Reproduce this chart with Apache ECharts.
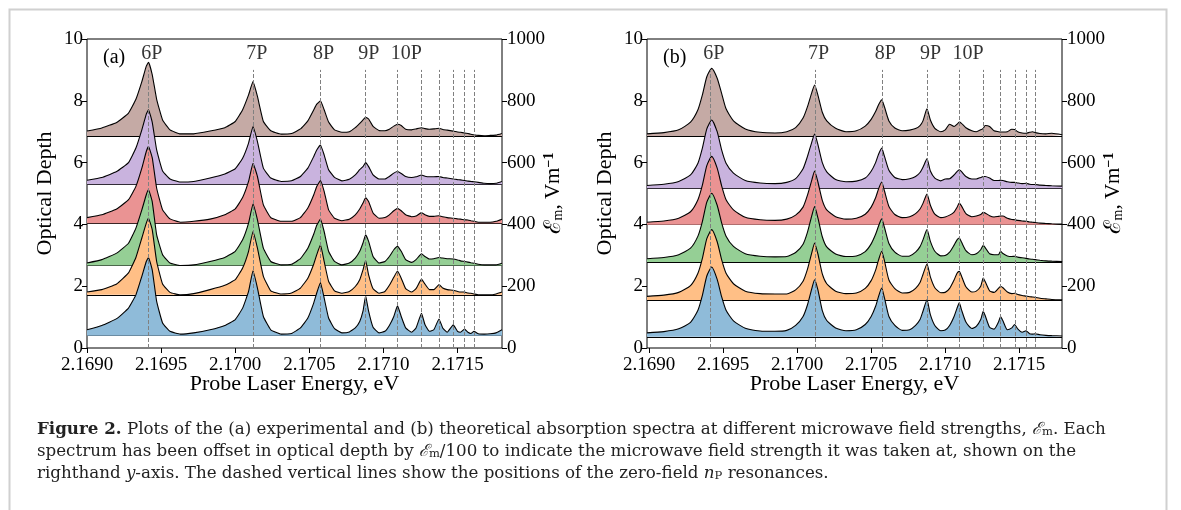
<!DOCTYPE html>
<html>
<head>
<meta charset="utf-8">
<script src="https://cdn.jsdelivr.net/npm/echarts@6/dist/echarts.min.js"></script>
<style>
  html, body { margin: 0; padding: 0; background: #fff; }
  #chart { width: 1181px; height: 510px; }
</style>
</head>
<body>
<div id="chart"></div>
<script>
// Probe laser energy grids (eV) for the experimental (a) and theoretical (b) spectra
const energyA = [2.16900, 2.16910, 2.16920, 2.16928, 2.16933, 2.16937, 2.16940, 2.169415,
  2.16944, 2.16947, 2.16951, 2.16956, 2.16963, 2.16972, 2.16983, 2.16993,
  2.17000, 2.17005, 2.17009, 2.17012, 2.17015, 2.17019, 2.17024, 2.17031,
  2.17038, 2.17044, 2.17049, 2.17053, 2.17055, 2.170575, 2.17060, 2.17063,
  2.17067, 2.17072, 2.17077, 2.17081, 2.17084, 2.170862, 2.17088, 2.17090,
  2.17093, 2.17097, 2.17101, 2.17104, 2.17107, 2.171095, 2.17112, 2.17115,
  2.17119, 2.17122, 2.171257, 2.17128, 2.17131, 2.17134, 2.171375, 2.17140,
  2.17143, 2.171471, 2.17150, 2.17152, 2.171547, 2.17157, 2.17159, 2.171611,
  2.17164, 2.17168, 2.17172, 2.17176, 2.17180];

const energyB = [2.168986, 2.16910, 2.16920, 2.16928, 2.16933, 2.16936, 2.16939, 2.169423,
  2.16946, 2.16949, 2.16952, 2.16957, 2.16965, 2.16975, 2.16985, 2.16993,
  2.16999, 2.17004, 2.17007, 2.17010, 2.170118, 2.17014, 2.17017, 2.17020,
  2.17026, 2.17033, 2.17040, 2.17046, 2.17050, 2.17053, 2.17055, 2.170571,
  2.17059, 2.17062, 2.17066, 2.17071, 2.17076, 2.17080, 2.17083, 2.17085,
  2.170877, 2.17090, 2.17093, 2.17097, 2.17100, 2.17103, 2.17106, 2.17108,
  2.171095, 2.17111, 2.17114, 2.17118, 2.17121, 2.17124, 2.171257, 2.17127,
  2.17130, 2.17133, 2.17136, 2.171374, 2.17139, 2.17142, 2.17145, 2.171469,
  2.17149, 2.17152, 2.171546, 2.17157, 2.17159, 2.171608, 2.17164, 2.17168,
  2.17172, 2.17179];

// Microwave field strengths (V/m); each spectrum is offset by field/100
const fieldsA = [40, 172, 267, 404, 530, 686];
const fieldsB = [36.5, 155, 278, 399, 517, 686];

// (a) experimental optical depth, offset included
const expBlue = [0.59, 0.73, 0.95, 1.29, 1.72, 2.32, 2.80, 2.93,
  2.53, 1.51, 0.81, 0.54, 0.45, 0.49, 0.59, 0.73,
  0.92, 1.29, 1.83, 2.50, 1.94, 1.02, 0.59, 0.45,
  0.47, 0.65, 0.97, 1.46, 1.78, 2.12, 1.62, 0.97,
  0.63, 0.49, 0.52, 0.65, 0.86, 1.19, 1.69, 1.19,
  0.67, 0.49, 0.54, 0.73, 1.02, 1.37, 1.02, 0.65,
  0.51, 0.65, 1.12, 0.76, 0.54, 0.59, 0.94, 0.65,
  0.51, 0.75, 0.54, 0.51, 0.61, 0.51, 0.47, 0.54,
  0.46, 0.45, 0.46, 0.49, 0.59];
const expOrange = [1.81, 1.89, 2.07, 2.43, 2.93, 3.56, 4.04, 4.20,
  3.83, 2.80, 2.07, 1.80, 1.72, 1.76, 1.89, 2.03,
  2.21, 2.59, 3.13, 3.77, 3.23, 2.32, 1.85, 1.75,
  1.78, 1.94, 2.26, 2.72, 3.02, 3.34, 2.80, 2.16,
  1.85, 1.77, 1.83, 1.99, 2.21, 2.53, 2.83, 2.37,
  1.92, 1.77, 1.83, 2.03, 2.29, 2.49, 2.26, 1.92,
  1.81, 1.92, 2.23, 2.07, 1.89, 1.89, 2.05, 1.94,
  1.89, 1.87, 1.83, 1.81, 1.81, 1.78, 1.77, 1.75,
  1.72, 1.72, 1.72, 1.75, 1.81];
const expGreen = [2.75, 2.86, 3.07, 3.39, 3.88, 4.47, 4.96, 5.12,
  4.74, 3.66, 3.02, 2.75, 2.67, 2.69, 2.80, 2.93,
  3.13, 3.50, 4.04, 4.66, 4.15, 3.23, 2.80, 2.69,
  2.71, 2.89, 3.23, 3.69, 3.97, 4.17, 3.77, 3.13,
  2.80, 2.69, 2.75, 2.91, 3.13, 3.40, 3.66, 3.45,
  2.96, 2.75, 2.80, 2.96, 3.18, 3.29, 3.13, 2.86,
  2.77, 2.86, 3.05, 2.96, 2.88, 2.89, 2.93, 2.91,
  2.89, 2.88, 2.85, 2.82, 2.80, 2.78, 2.76, 2.74,
  2.71, 2.69, 2.69, 2.69, 2.74];
const expRed = [4.22, 4.31, 4.50, 4.80, 5.23, 5.82, 6.36, 6.52,
  6.16, 5.17, 4.47, 4.18, 4.07, 4.10, 4.17, 4.31,
  4.50, 4.87, 5.39, 5.98, 5.55, 4.63, 4.22, 4.10,
  4.10, 4.22, 4.53, 4.96, 5.23, 5.42, 5.07, 4.47,
  4.20, 4.12, 4.17, 4.31, 4.50, 4.69, 4.87, 4.74,
  4.37, 4.20, 4.22, 4.31, 4.44, 4.52, 4.44, 4.31,
  4.25, 4.27, 4.38, 4.31, 4.26, 4.26, 4.28, 4.25,
  4.22, 4.20, 4.18, 4.17, 4.15, 4.14, 4.12, 4.10,
  4.07, 4.07, 4.07, 4.10, 4.17];
const expPurple = [5.43, 5.52, 5.71, 6.00, 6.47, 7.06, 7.57, 7.71,
  7.31, 6.41, 5.73, 5.47, 5.37, 5.39, 5.50, 5.63,
  5.80, 6.14, 6.63, 7.17, 6.68, 5.82, 5.50, 5.39,
  5.41, 5.55, 5.82, 6.20, 6.41, 6.57, 6.25, 5.77,
  5.52, 5.41, 5.46, 5.60, 5.77, 5.87, 6.00, 5.87,
  5.60, 5.47, 5.47, 5.55, 5.66, 5.71, 5.65, 5.55,
  5.52, 5.54, 5.60, 5.56, 5.54, 5.54, 5.55, 5.52,
  5.50, 5.47, 5.45, 5.44, 5.42, 5.40, 5.39, 5.38,
  5.36, 5.33, 5.32, 5.33, 5.39];
const expBrown = [7.02, 7.12, 7.30, 7.60, 8.05, 8.62, 9.12, 9.25,
  8.85, 8.05, 7.38, 7.06, 6.93, 6.93, 7.02, 7.13,
  7.33, 7.71, 8.19, 8.62, 8.14, 7.33, 7.03, 6.92,
  6.94, 7.09, 7.35, 7.71, 7.89, 8.00, 7.71, 7.31,
  7.06, 6.98, 7.00, 7.13, 7.27, 7.38, 7.47, 7.41,
  7.17, 7.04, 7.03, 7.08, 7.18, 7.24, 7.20, 7.08,
  7.06, 7.09, 7.13, 7.10, 7.08, 7.09, 7.11, 7.07,
  7.05, 7.02, 6.99, 6.98, 6.96, 6.94, 6.92, 6.90,
  6.88, 6.87, 6.88, 6.89, 6.94];

// (b) theoretical optical depth, offset included
const thBlue = [0.49, 0.53, 0.62, 0.83, 1.22, 1.70, 2.33, 2.62,
  2.22, 1.66, 1.22, 0.88, 0.64, 0.55, 0.54, 0.57,
  0.73, 1.02, 1.40, 1.94, 2.21, 1.89, 1.21, 0.89,
  0.65, 0.56, 0.59, 0.76, 1.02, 1.35, 1.67, 1.94,
  1.62, 1.02, 0.73, 0.57, 0.59, 0.73, 0.92, 1.19,
  1.56, 1.08, 0.73, 0.56, 0.58, 0.73, 1.02, 1.29,
  1.46, 1.24, 0.84, 0.63, 0.70, 0.92, 1.19, 1.05,
  0.67, 0.61, 0.84, 1.02, 0.88, 0.59, 0.65, 0.76,
  0.62, 0.51, 0.56, 0.46, 0.45, 0.46, 0.43, 0.41,
  0.40, 0.39];
const thOrange = [1.67, 1.71, 1.80, 2.02, 2.42, 2.90, 3.54, 3.83,
  3.44, 2.86, 2.42, 2.08, 1.84, 1.76, 1.75, 1.75,
  1.88, 2.16, 2.55, 3.10, 3.40, 3.05, 2.40, 2.08,
  1.84, 1.76, 1.78, 1.93, 2.18, 2.52, 2.85, 3.13,
  2.82, 2.20, 1.92, 1.78, 1.80, 1.93, 2.12, 2.38,
  2.72, 2.30, 1.95, 1.79, 1.80, 1.93, 2.20, 2.42,
  2.48, 2.33, 1.98, 1.81, 1.84, 2.00, 2.26, 2.15,
  1.85, 1.80, 1.93, 2.00, 1.95, 1.81, 1.76, 1.77,
  1.73, 1.70, 1.68, 1.66, 1.65, 1.64, 1.61, 1.59,
  1.57, 1.56];
const thGreen = [2.89, 2.93, 3.02, 3.23, 3.62, 4.09, 4.72, 5.01,
  4.62, 4.05, 3.62, 3.29, 3.05, 2.97, 2.95, 2.96,
  3.09, 3.36, 3.75, 4.30, 4.58, 4.22, 3.60, 3.27,
  3.04, 2.96, 2.98, 3.12, 3.37, 3.68, 3.95, 4.18,
  3.90, 3.38, 3.10, 2.97, 2.98, 3.10, 3.28, 3.50,
  3.83, 3.45, 3.13, 2.98, 2.99, 3.10, 3.33, 3.50,
  3.56, 3.43, 3.15, 3.02, 3.05, 3.18, 3.32, 3.25,
  3.05, 3.02, 3.02, 3.13, 3.06, 2.98, 2.96, 2.97,
  2.94, 2.92, 2.90, 2.88, 2.87, 2.86, 2.84, 2.82,
  2.81, 2.80];
const thRed = [4.07, 4.11, 4.20, 4.41, 4.80, 5.27, 5.90, 6.20,
  5.82, 5.25, 4.80, 4.47, 4.23, 4.15, 4.13, 4.17,
  4.30, 4.56, 4.95, 5.45, 5.73, 5.38, 4.78, 4.47,
  4.25, 4.17, 4.20, 4.33, 4.56, 4.86, 5.15, 5.37,
  5.08, 4.58, 4.32, 4.22, 4.25, 4.35, 4.50, 4.68,
  4.98, 4.62, 4.33, 4.22, 4.24, 4.30, 4.40, 4.55,
  4.69, 4.60, 4.35, 4.25, 4.27, 4.32, 4.39, 4.37,
  4.28, 4.24, 4.26, 4.27, 4.27, 4.20, 4.16, 4.15,
  4.13, 4.11, 4.10, 4.08, 4.07, 4.06, 4.04, 4.03,
  4.02, 4.01];
const thPurple = [5.26, 5.30, 5.39, 5.60, 5.98, 6.47, 7.09, 7.38,
  7.00, 6.41, 5.98, 5.66, 5.42, 5.34, 5.32, 5.36,
  5.48, 5.80, 6.20, 6.68, 6.92, 6.59, 6.00, 5.70,
  5.45, 5.38, 5.40, 5.50, 5.72, 6.00, 6.27, 6.47,
  6.20, 5.75, 5.52, 5.45, 5.48, 5.55, 5.68, 5.85,
  6.12, 5.73, 5.50, 5.41, 5.47, 5.48, 5.60, 5.71,
  5.77, 5.71, 5.55, 5.47, 5.47, 5.52, 5.55, 5.55,
  5.50, 5.42, 5.42, 5.43, 5.42, 5.38, 5.36, 5.36,
  5.34, 5.32, 5.33, 5.30, 5.29, 5.29, 5.27, 5.26,
  5.25, 5.24];
const thBrown = [6.93, 6.97, 7.06, 7.31, 7.71, 8.19, 8.78, 9.05,
  8.73, 8.24, 7.74, 7.35, 7.09, 6.98, 6.96, 7.00,
  7.13, 7.44, 7.81, 8.28, 8.51, 8.19, 7.63, 7.35,
  7.11, 7.00, 7.03, 7.18, 7.40, 7.65, 7.87, 8.03,
  7.80, 7.35, 7.12, 7.03, 7.05, 7.10, 7.20, 7.35,
  7.74, 7.38, 7.11, 7.00, 7.06, 7.24, 7.17, 7.24,
  7.31, 7.27, 7.13, 7.03, 7.00, 7.06, 7.11, 7.20,
  7.17, 7.03, 7.00, 6.99, 6.99, 7.00, 7.08, 7.07,
  7.00, 6.96, 6.95, 6.98, 7.00, 6.97, 6.94, 6.93,
  6.95, 6.90];

// Zero-field nP resonance energies (eV), 6P to 15P
const resonances = [2.169413, 2.170121, 2.170572, 2.170878, 2.171096,
  2.171257, 2.171375, 2.171471, 2.171547, 2.171611];
const resonanceNames = ['6P', '7P', '8P', '9P', '10P'];

// Axis ticks
const energyTicks = [2.1690, 2.1695, 2.1700, 2.1705, 2.1710, 2.1715];
const depthTicks = [0, 2, 4, 6, 8, 10];
const fieldTicks = [0, 200, 400, 600, 800, 1000];

const fillColors = ['#8fbbd9', '#ffbf86', '#95cf95', '#ea9393', '#c9b3de', '#c5aaa5'];
const SERIF = '"Liberation Serif", "DejaVu Serif", serif';
const CAPTION_FONT = '"DejaVu Serif", "Liberation Serif", serif';

const panels = [
  { xMin: 2.1690, xMax: 2.1718, energies: energyA, fields: fieldsA, smooth: 0.12,
    spectra: [expBlue, expOrange, expGreen, expRed, expPurple, expBrown], left: 87, tag: '(a)' },
  { xMin: 2.168986, xMax: 2.171789, energies: energyB, fields: fieldsB, smooth: 0.2,
    spectra: [thBlue, thOrange, thGreen, thRed, thPurple, thBrown], left: 647, tag: '(b)' }
];

const PLOT_W = 415, PLOT_TOP = 39, PLOT_H = 309;

const grids = [], xAxes = [], yAxes = [], series = [], graphics = [];

panels.forEach((p, k) => {
  grids.push({ left: p.left, top: PLOT_TOP, width: PLOT_W, height: PLOT_H,
    show: true, borderColor: '#000', borderWidth: 1, backgroundColor: 'transparent' });

  xAxes.push({
    gridIndex: k, type: 'value', min: p.xMin, max: p.xMax,
    axisLine: { show: false },
    axisTick: { show: true, inside: false, length: 5, customValues: energyTicks,
      lineStyle: { color: '#000', width: 1 } },
    axisLabel: { customValues: energyTicks, formatter: v => v.toFixed(4),
      color: '#000', fontFamily: SERIF, fontSize: 19, margin: 8 },
    splitLine: { show: false },
    name: 'Probe Laser Energy, eV', nameLocation: 'middle', nameGap: 25, nameMoveOverlap: false,
    nameTextStyle: { color: '#000', fontFamily: SERIF, fontSize: 22 }
  });

  yAxes.push({
    gridIndex: k, type: 'value', position: 'left', min: 0, max: 10, interval: 2,
    axisLine: { show: false },
    axisTick: { show: true, inside: false, length: 5, lineStyle: { color: '#000', width: 1 } },
    axisLabel: { color: '#000', fontFamily: SERIF, fontSize: 19, margin: 4,
      customValues: depthTicks },
    splitLine: { show: false },
    name: 'Optical Depth', nameLocation: 'middle', nameGap: 31, nameRotate: 90, nameMoveOverlap: false,
    nameTextStyle: { color: '#000', fontFamily: SERIF, fontSize: 22 }
  });
  yAxes.push({
    gridIndex: k, type: 'value', position: 'right', min: 0, max: 1000, interval: 200,
    axisLine: { show: false },
    axisTick: { show: true, inside: false, length: 5, lineStyle: { color: '#000', width: 1 } },
    axisLabel: { color: '#000', fontFamily: SERIF, fontSize: 19, margin: 5,
      customValues: fieldTicks, formatter: v => String(v) },
    splitLine: { show: false },
    name: '{e|ℰ}{s|m}{t|, Vm}{p|−1}', nameLocation: 'middle', nameGap: 40, nameRotate: 90,
    nameMoveOverlap: false,
    nameTextStyle: {
      color: '#000', fontFamily: SERIF, fontSize: 21,
      rich: {
        e: { fontFamily: SERIF, fontSize: 23, color: '#000' },
        s: { fontFamily: SERIF, fontSize: 14, color: '#000', verticalAlign: 'bottom', lineHeight: 15 },
        t: { fontFamily: SERIF, fontSize: 21, color: '#000' },
        p: { fontFamily: SERIF, fontSize: 14, fontWeight: 'bold', color: '#000', verticalAlign: 'top', lineHeight: 15 }
      }
    }
  });

  // stacked traces: the highest field is drawn first so lower traces overlap it
  for (let i = 5; i >= 0; i--) {
    const offset = p.fields[i] / 100;
    const z = 2 + (5 - i);
    series.push({
      type: 'line', xAxisIndex: k, yAxisIndex: 2 * k, z,
      data: p.energies.map((e, j) => [e, p.spectra[i][j]]),
      symbol: 'none', smooth: p.smooth, animation: false, silent: true,
      lineStyle: { color: '#000', width: 1.1 },
      areaStyle: { color: fillColors[i], opacity: 1, origin: offset },
      markLine: {
        silent: true, symbol: 'none', z, animation: false,
        label: { show: false },
        lineStyle: { color: '#000', width: 1.2, type: 'solid' },
        data: [{ yAxis: offset }]
      }
    });
  }

  // dashed markers at the zero-field resonances
  series.push({
    type: 'lines', coordinateSystem: 'cartesian2d', xAxisIndex: k, yAxisIndex: 2 * k,
    z: 20, silent: true, animation: false,
    lineStyle: { color: '#808080', width: 1, type: [4, 2], opacity: 1 },
    data: resonances.map(e => ({ coords: [[e, 0], [e, 9.0]] }))
  });

  // resonance names above the traces
  series.push({
    type: 'scatter', xAxisIndex: k, yAxisIndex: 2 * k, z: 21, silent: true,
    animation: false, symbolSize: 0,
    data: resonanceNames.map((n, i) => ({ value: [resonances[i], 9.52], name: n })),
    label: { show: true, position: 'inside', align: 'left', verticalAlign: 'middle',
      offset: [-7, 0], formatter: d => d.name, color: '#000', fontFamily: SERIF, fontSize: 20 }
  });

  graphics.push({
    type: 'text', left: p.left + 16, top: 48, z: 30,
    style: { text: p.tag, font: '20px ' + SERIF, fill: '#000' }
  });
});

// figure frame
graphics.push({
  type: 'rect', left: 7, top: 7, z: 0,
  shape: { width: 1157, height: 540 },
  style: { fill: 'none', stroke: '#d0d0d0', lineWidth: 2 }
});

const capRich = {
  b: { fontFamily: CAPTION_FONT, fontSize: 16.7, fontWeight: 'bold', fill: '#222' },
  r: { fontFamily: CAPTION_FONT, fontSize: 16.7, fill: '#222' },
  i: { fontFamily: CAPTION_FONT, fontSize: 16.7, fontStyle: 'italic', fill: '#222' },
  s: { fontFamily: CAPTION_FONT, fontSize: 11.5, fill: '#222', verticalAlign: 'bottom', lineHeight: 12 }
};
const captionLines = [
  '{b|Figure 2.}{r| Plots of the (a) experimental and (b) theoretical absorption spectra at different microwave field strengths, }{i|ℰ}{s|m}{r|. Each}',
  '{r|spectrum has been offset in optical depth by }{i|ℰ}{s|m}{r|/100 to indicate the microwave field strength it was taken at, shown on the}',
  '{r|righthand }{i|y}{r|-axis. The dashed vertical lines show the positions of the zero-field }{i|n}{s|P}{r| resonances.}'
];
captionLines.forEach((t, i) => {
  graphics.push({
    type: 'text', left: 37, top: 421 + i * 22, z: 30,
    style: { text: t, rich: capRich, font: '16.7px ' + CAPTION_FONT, fill: '#222' }
  });
});

const chart = echarts.init(document.getElementById('chart'), null, { renderer: 'canvas' });
chart.setOption({
  backgroundColor: '#fff',
  animation: false,
  grid: grids,
  xAxis: xAxes,
  yAxis: yAxes,
  series: series,
  graphic: graphics
});
</script>
</body>
</html>
